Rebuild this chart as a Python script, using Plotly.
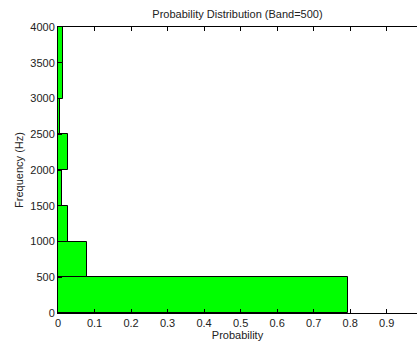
import plotly.graph_objects as go

band_lo = [0, 500, 1000, 1500, 2000, 2500, 3000, 3500]
band_width = 500
probability = [0.793, 0.079, 0.026, 0.011, 0.028, 0.005, 0.014, 0.014]
x_ticks = [0, 0.1, 0.2, 0.3, 0.4, 0.5, 0.6, 0.7, 0.8, 0.9]
x_tick_text = ["0", "0.1", "0.2", "0.3", "0.4", "0.5", "0.6", "0.7", "0.8", "0.9"]
y_ticks = [0, 500, 1000, 1500, 2000, 2500, 3000, 3500, 4000]

centers = [b + band_width / 2 for b in band_lo]

font = dict(family="Liberation Sans, Arial, sans-serif", size=11, color="#222")

fig = go.Figure(go.Bar(
    x=probability, y=centers, width=[band_width] * len(band_lo), orientation="h",
    marker=dict(color="#00ff00", line=dict(color="#000", width=1)),
))

fig.update_layout(
    width=417, height=345,
    margin=dict(l=58, r=0, t=27, b=32),
    paper_bgcolor="white", plot_bgcolor="white",
    font=font, showlegend=False, bargap=0,
    title=dict(text="Probability Distribution (Band=500)", x=0.5, xref="paper",
               y=1 - 14 / 345, yanchor="middle", font=font),
)
fig.update_xaxes(
    range=[0, 0.983], tickvals=x_ticks, ticktext=x_tick_text,
    ticks="inside", ticklen=4, tickcolor="#000", showline=True, linecolor="#000",
    linewidth=1, mirror="ticks", showgrid=False, zeroline=False,
    title=dict(text="Probability", standoff=2, font=font),
)
fig.update_yaxes(
    range=[0, 4000], tickvals=y_ticks,
    ticks="inside", ticklen=4, tickcolor="#000", showline=True, linecolor="#000",
    linewidth=1, showgrid=False, zeroline=False,
    title=dict(text="Frequency (Hz)", standoff=4, font=font),
)

fig.write_html("out.html")
